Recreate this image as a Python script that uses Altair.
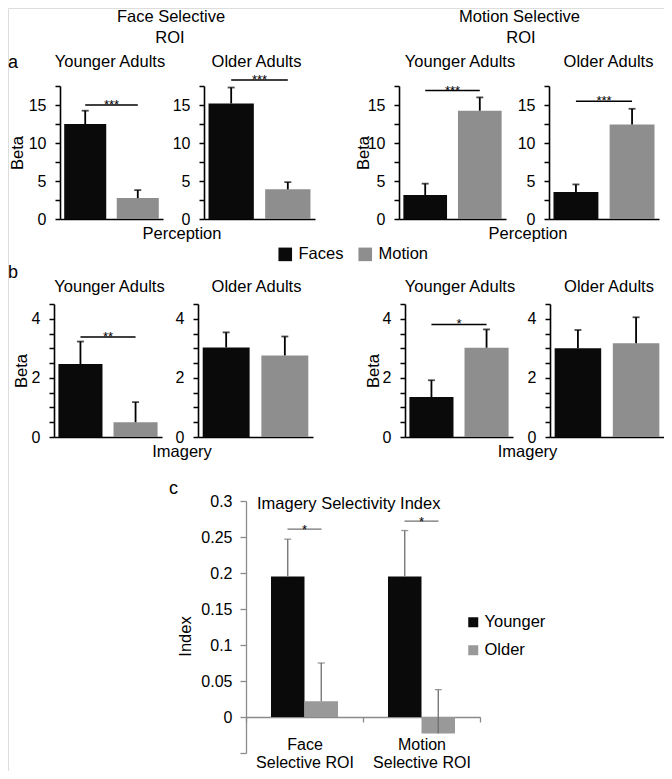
import altair as alt
import pandas as pd

FONT = "Liberation Sans"
BLACK = "#0a0a0a"
GRAY = "#8e8e8e"
GRAY_C = "#999999"
W, H = 656, 763

conditions = ["Faces", "Motion"]

# ---- panel a: Perception (values, error-bar tops) ----
perc_face_young = [12.5, 2.75]
perc_face_young_top = [14.25, 3.8]
perc_face_old = [15.2, 3.9]
perc_face_old_top = [17.3, 4.85]
perc_motion_young = [3.15, 14.25]
perc_motion_young_top = [4.65, 16.0]
perc_motion_old = [3.55, 12.45]
perc_motion_old_top = [4.55, 14.5]
perc_sig = [15.0, 18.3, 16.9, 15.5]
perc_stars = ["***", "***", "***", "***"]

# ---- panel b: Imagery ----
imag_face_young = [2.47, 0.5]
imag_face_young_top = [3.23, 1.18]
imag_face_old = [3.03, 2.76]
imag_face_old_top = [3.54, 3.4]
imag_motion_young = [1.35, 3.02]
imag_motion_young_top = [1.92, 3.64]
imag_motion_old = [3.0, 3.17]
imag_motion_old_top = [3.62, 4.05]
imag_sig = [3.38, None, 3.81, None]
imag_stars = ["**", "", "*", ""]

# ---- panel c: Imagery Selectivity Index ----
rois = ["Face", "Motion"]
index_groups = ["Younger", "Older"]
index_young = [0.195, 0.195]
index_young_top = [0.247, 0.259]
index_old = [0.022, -0.023]
index_old_top = [0.075, 0.038]
index_sig = [0.261, 0.272]
index_stars = ["*", "*"]

roi_titles = ["Face Selective", "Motion Selective"]
age_titles = ["Younger Adults", "Older Adults"]

PAD_IN, PAD_OUT = 0.2, 0.08


def ann(text, x, y, size=16.5, align="center", baseline="alphabetic", color="black"):
    return alt.Chart(pd.DataFrame({"t": [text]})).mark_text(
        font=FONT, fontSize=size, align=align, baseline=baseline, color=color
    ).encode(x=alt.value(x), y=alt.value(y), text="t:N")


def bar_panel(vals, tops, sig, stars, ymax, step, label_every, box, beta_x=None, legend=None):
    x0, x1, y0, y1 = box  # plot-area box of this small panel (pixels of the figure)
    df = pd.DataFrame({"cond": conditions, "value": vals, "top": tops})
    xs = alt.Scale(domain=conditions, range=[x0, x1], paddingInner=PAD_IN, paddingOuter=PAD_OUT)
    xax = alt.Axis(orient="bottom", offset=y1 - H, labels=False, ticks=False, title=None,
                   domain=True, domainColor="black", domainWidth=1.6, grid=False)
    n = int(round(ymax / step))
    tick_vals = [round(i * step, 3) for i in range(n + 1)]
    ys = alt.Scale(domain=[0, ymax], range=[y1, y0], nice=False)
    yargs = dict(orient="left", offset=-x0, values=tick_vals,
                 labelExpr=f"abs(datum.value/{label_every} - round(datum.value/{label_every})) < 0.001 ? format(datum.value, '~g') : ''",
                 domainColor="black", domainWidth=1.6, tickColor="black", tickWidth=1.5,
                 tickSize=5, labelFontSize=16, labelPadding=9, labelColor="black", grid=False)
    if beta_x is not None:
        yax = alt.Axis(title="Beta", titleX=beta_x, titleY=(y0 + y1) / 2, titleBaseline="alphabetic",
                       titleAlign="center", titleFontSize=16.5, titleFontWeight="normal",
                       titleColor="black", **yargs)
    else:
        yax = alt.Axis(title=None, **yargs)
    X = alt.X("cond:N", scale=xs, axis=xax)
    base = alt.Chart(df)
    bars = base.mark_bar().encode(
        x=X, y=alt.Y("value:Q", scale=ys, axis=yax),
        color=alt.Color("cond:N", scale=alt.Scale(domain=conditions, range=[BLACK, GRAY]),
                        legend=legend),
    )
    err = base.mark_rule(color="black", strokeWidth=1.8).encode(
        x=X, y=alt.Y("value:Q", scale=ys, axis=yax), y2="top:Q")
    cap = base.mark_tick(color="black", thickness=1.8, size=7).encode(
        x=X, y=alt.Y("top:Q", scale=ys, axis=yax))
    layers = [bars, err, cap]
    if sig is not None:
        band_step = (x1 - x0) / (2 - PAD_IN + 2 * PAD_OUT)
        sdf = pd.DataFrame({"cond": [conditions[0]], "cond2": [conditions[1]],
                            "sig": [sig], "stars": [stars]})
        sb = alt.Chart(sdf)
        layers.append(sb.mark_rule(color="black", strokeWidth=1.5).encode(
            x=X, x2="cond2:N", y=alt.Y("sig:Q", scale=ys, axis=yax)))
        layers.append(sb.mark_text(font=FONT, fontSize=13, baseline="alphabetic", dy=4,
                                   dx=PAD_IN * band_step / 2, color="black").encode(
            x=alt.X("cond:N", scale=xs, axis=xax, bandPosition=1),
            y=alt.Y("sig:Q", scale=ys, axis=yax), text="stars:N"))
    return alt.layer(*layers)


legend_ab = alt.Legend(orient="none", legendX=269, legendY=238, direction="horizontal", title=None,
                       symbolType="square", symbolSize=185, symbolStrokeWidth=0,
                       labelFontSize=16.5, labelFont=FONT, labelColor="black",
                       labelOffset=5, columnPadding=13)

ROW_A = (78, 211)
ROW_B = (296, 429)
A1 = bar_panel(perc_face_young, perc_face_young_top, perc_sig[0], perc_stars[0], 17.5, 2.5, 5,
               (52, 155) + ROW_A, beta_x=-38)
A2 = bar_panel(perc_face_old, perc_face_old_top, perc_sig[1], perc_stars[1], 17.5, 2.5, 5,
               (196, 307) + ROW_A)
A3 = bar_panel(perc_motion_young, perc_motion_young_top, perc_sig[2], perc_stars[2], 17.5, 2.5, 5,
               (391, 498) + ROW_A, beta_x=-31)
A4 = bar_panel(perc_motion_old, perc_motion_old_top, perc_sig[3], perc_stars[3], 17.5, 2.5, 5,
               (541, 651) + ROW_A)
B1 = bar_panel(imag_face_young, imag_face_young_top, imag_sig[0], imag_stars[0], 4.5, 0.5, 2,
               (46, 154) + ROW_B, beta_x=-28, legend=legend_ab)
B2 = bar_panel(imag_face_old, imag_face_old_top, imag_sig[1], imag_stars[1], 4.5, 0.5, 2,
               (190, 305) + ROW_B)
B3 = bar_panel(imag_motion_young, imag_motion_young_top, imag_sig[2], imag_stars[2], 4.5, 0.5, 2,
               (397, 505) + ROW_B, beta_x=-27)
B4 = bar_panel(imag_motion_old, imag_motion_old_top, imag_sig[3], imag_stars[3], 4.5, 0.5, 2,
               (542, 656) + ROW_B)

# ---- panel c ----
CX0, CX1, CY0, CY1 = 238, 472, 493, 745
cdf = pd.DataFrame({
    "roi": rois + rois,
    "group": [index_groups[0]] * 2 + [index_groups[1]] * 2,
    "value": index_young + index_old,
    "top": index_young_top + index_old_top,
})
ys_c = alt.Scale(domain=[-0.05, 0.3], range=[CY1, CY0], nice=False)
zero_px = CY1 - (CY1 - CY0) * 0.05 / 0.35
xs_c = alt.Scale(domain=rois, range=[CX0, CX1], paddingInner=0, paddingOuter=0)
xax_c = alt.Axis(orient="bottom", offset=zero_px - H, title=None, domain=True, domainColor="#8a8a8a",
                 domainWidth=1.3, ticks=True, tickBand="extent", tickColor="#8a8a8a", tickSize=5,
                 tickWidth=1.3, labelExpr="datum.label ? [datum.label, 'Selective ROI'] : ''",
                 labelFontSize=16, labelPadding=14, labelLineHeight=18, labelColor="black",
                 labelAngle=0, grid=False)
yvals_c = [round(-0.05 + 0.05 * i, 2) for i in range(8)]
yax_c = alt.Axis(orient="left", offset=-CX0, values=yvals_c,
                 labelExpr="datum.value < -0.01 ? '' : format(datum.value, '.2~f')",
                 domainColor="#8a8a8a", domainWidth=1.3, tickColor="#8a8a8a", tickWidth=1.3,
                 tickSize=6, labelFontSize=16, labelPadding=8, labelColor="black", grid=False,
                 title="Index", titleX=-56, titleY=628, titleAlign="center", titleBaseline="alphabetic",
                 titleFontSize=16.5, titleFontWeight="normal", titleColor="black")
Xc = alt.X("roi:N", scale=xs_c, axis=xax_c)
XO = alt.XOffset("group:N", scale=alt.Scale(domain=index_groups, paddingOuter=0.746, paddingInner=0))
legend_c = alt.Legend(orient="none", legendX=457, legendY=606, title=None, symbolType="square",
                      symbolSize=100, symbolStrokeWidth=0, labelFontSize=16.5, labelFont=FONT,
                      labelColor="black", labelOffset=3, rowPadding=11)
cb = alt.Chart(cdf)
c_bars = cb.mark_bar().encode(
    x=Xc, xOffset=XO, y=alt.Y("value:Q", scale=ys_c, axis=yax_c),
    color=alt.Color("group:N", scale=alt.Scale(domain=index_groups, range=[BLACK, GRAY_C]), legend=legend_c))
c_err = cb.mark_rule(color="#6e6e6e", strokeWidth=1.3).encode(
    x=Xc, xOffset=XO, y=alt.Y("value:Q", scale=ys_c, axis=yax_c), y2="top:Q")
c_cap = cb.mark_tick(color="#6e6e6e", thickness=1.3, size=7).encode(
    x=Xc, xOffset=XO, y=alt.Y("top:Q", scale=ys_c, axis=yax_c))
csig = pd.DataFrame({"roi": rois, "sig": index_sig, "stars": index_stars})
c_sig = alt.Chart(csig).mark_tick(color="#333333", thickness=1.2, size=34).encode(
    x=Xc, y=alt.Y("sig:Q", scale=ys_c, axis=yax_c))
c_star = alt.Chart(csig).mark_text(font=FONT, fontSize=13, baseline="alphabetic", dy=5, color="black").encode(
    x=Xc, y=alt.Y("sig:Q", scale=ys_c, axis=yax_c), text="stars:N")
C = alt.layer(c_bars, c_err, c_cap, c_sig, c_star)

texts = alt.layer(
    ann("a", 0, 60, size=18, align="left"),
    ann(roi_titles[0], 163, 14), ann("ROI", 162, 35),
    ann(roi_titles[1], 511.5, 14), ann("ROI", 513, 35),
    ann(age_titles[0], 102, 59), ann(age_titles[1], 248.5, 59),
    ann(age_titles[0], 452, 59), ann(age_titles[1], 600.5, 59),
    ann("Perception", 174, 231), ann("Perception", 520, 231),
    ann("b", 0, 270, size=18, align="left"),
    ann(age_titles[0], 101.5, 284), ann(age_titles[1], 248.5, 284),
    ann(age_titles[0], 452, 284), ann(age_titles[1], 601, 284),
    ann("Imagery", 174, 449), ann("Imagery", 519.5, 449),
    ann("c", 161, 486, size=18, align="left"),
    ann("Imagery Selectivity Index", 249, 501, align="left"),
)

chart = alt.layer(A1, A2, A3, A4, B1, B2, B3, B4, C, texts).resolve_scale(
    x="independent", y="independent", color="independent"
).properties(
    width=W, height=H, padding={"left": 0, "top": 0, "right": 0, "bottom": 0}
).configure_view(stroke=None).configure(font=FONT).configure_axis(
    labelFont=FONT, titleFont=FONT).configure_legend(labelFont=FONT)

chart.save("out.html", embed_options={"renderer": "svg", "actions": False})
